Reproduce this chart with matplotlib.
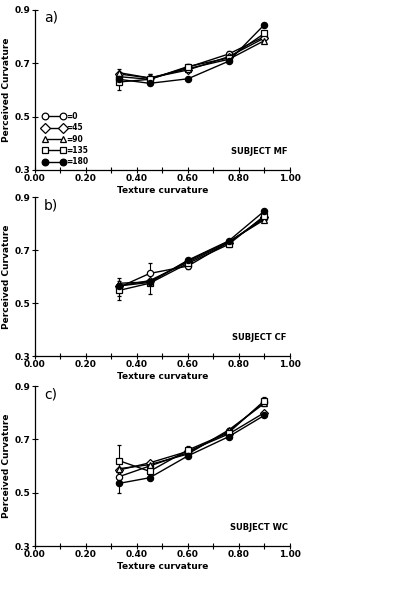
import numpy as np
import matplotlib
matplotlib.use("Agg")
import matplotlib.pyplot as plt
from matplotlib.lines import Line2D
from matplotlib.ticker import MultipleLocator

# Texture curvature levels
texture = [0.33, 0.45, 0.60, 0.76, 0.90]

# Orientation conditions
labels = ["=0", "=45", "=90", "=135", "=180"]
markers = ["o", "D", "^", "s", "o"]
fills = ["white", "white", "white", "white", "black"]

# Panel a) subject MF
mf_0 = [0.650, 0.640, 0.685, 0.735, 0.800]
mf_45 = [0.660, 0.645, 0.675, 0.725, 0.795]
mf_90 = [0.665, 0.645, 0.680, 0.715, 0.785]
mf_135 = [0.630, 0.640, 0.688, 0.720, 0.812]
mf_180 = [0.640, 0.625, 0.642, 0.708, 0.845]
mf_err = [0.030, 0.020, 0.010, 0.010, 0.010]

# Panel b) subject CF
cf_0 = [0.560, 0.612, 0.640, 0.730, 0.820]
cf_45 = [0.565, 0.585, 0.655, 0.728, 0.825]
cf_90 = [0.575, 0.580, 0.660, 0.732, 0.815]
cf_135 = [0.548, 0.575, 0.650, 0.722, 0.830]
cf_180 = [0.565, 0.578, 0.662, 0.735, 0.848]
cf_err = [0.035, 0.040, 0.010, 0.010, 0.015]

# Panel c) subject WC
wc_0 = [0.560, 0.600, 0.650, 0.730, 0.840]
wc_45 = [0.585, 0.612, 0.655, 0.720, 0.800]
wc_90 = [0.590, 0.605, 0.645, 0.735, 0.835]
wc_135 = [0.620, 0.580, 0.660, 0.725, 0.845]
wc_180 = [0.535, 0.556, 0.638, 0.710, 0.790]
wc_err = [0.060, 0.015, 0.015, 0.012, 0.015]

panels = [
    ("a)", "SUBJECT MF", [mf_0, mf_45, mf_90, mf_135, mf_180], mf_err),
    ("b)", "SUBJECT CF", [cf_0, cf_45, cf_90, cf_135, cf_180], cf_err),
    ("c)", "SUBJECT WC", [wc_0, wc_45, wc_90, wc_135, wc_180], wc_err),
]

plt.rcParams["font.family"] = "DejaVu Sans"
plt.rcParams["font.size"] = 6.5

fig = plt.figure(figsize=(4.02, 6.06), dpi=100)
fig.patch.set_facecolor("white")

# axes boxes in figure fraction
boxes = [
    [0.087, 0.7195, 0.634, 0.264],
    [0.087, 0.4125, 0.634, 0.262],
    [0.087, 0.099, 0.634, 0.264],
]

for box, (tag, subject, series, err) in zip(boxes, panels):
    ax = fig.add_axes(box)
    for k, vals in enumerate(series):
        ax.errorbar(texture, vals, yerr=err if k in (0, 3) else None,
                    color="black", lw=1.0, marker=markers[k],
                    mfc=fills[k], mec="black", mew=0.9, ms=4.5,
                    capsize=1.5, elinewidth=0.8)
    ax.set_xlim(0, 1)
    ax.set_ylim(0.3, 0.9)
    ax.xaxis.set_major_locator(MultipleLocator(0.2))
    ax.xaxis.set_minor_locator(MultipleLocator(0.1))
    ax.set_yticks([0.3, 0.5, 0.7, 0.9])
    ax.xaxis.set_major_formatter(lambda v, p: f"{v:.2f}")
    ax.yaxis.set_major_formatter(lambda v, p: f"{v:.1f}")
    ax.tick_params(which="both", direction="inout", length=4, width=0.8,
                   labelsize=6.5, pad=1)
    for lab in ax.get_xticklabels() + ax.get_yticklabels():
        lab.set_fontweight("bold")
    ax.spines["top"].set_visible(False)
    ax.spines["right"].set_visible(False)
    ax.spines["left"].set_linewidth(0.9)
    ax.spines["bottom"].set_linewidth(0.9)
    ax.set_xlabel("Texture curvature", fontsize=6.5, fontweight="bold", labelpad=2)
    ax.set_ylabel("Perceived Curvature", fontsize=6.5, fontweight="bold", labelpad=3)
    ax.text(0.035, 0.855, tag, fontsize=10)
    ax.text(0.88, 0.37, subject, fontsize=6, fontweight="bold", ha="center",
            va="center")
    if tag == "a)":
        handles = [Line2D([], [], color="black", lw=1.0, marker=markers[k],
                          mfc=fills[k], mec="black", mew=0.9, ms=4.8)
                   for k in range(5)]
        ax.legend(handles, labels, loc="lower left",
                  bbox_to_anchor=(0.01, -0.01), frameon=False,
                  numpoints=2, handlelength=3.0, handletextpad=0.0,
                  labelspacing=0.3, borderpad=0.2,
                  prop={"weight": "bold", "size": 5.5})

fig.savefig("out.png", dpi=100, facecolor="white")
